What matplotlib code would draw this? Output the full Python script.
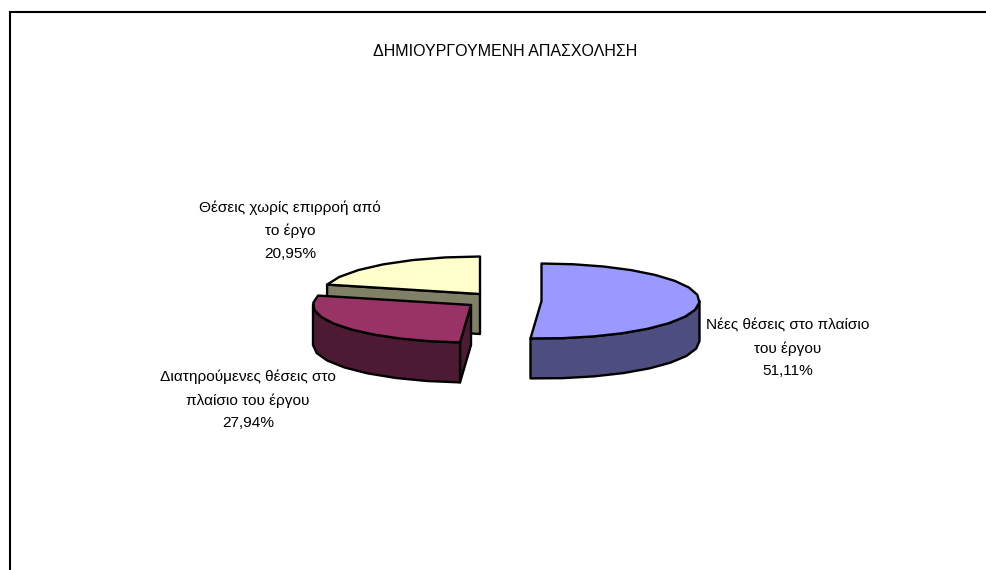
import numpy as np
import matplotlib
matplotlib.use('Agg')
import matplotlib.pyplot as plt
from matplotlib.patches import Polygon

plt.rcParams['font.family'] = ['Liberation Sans', 'DejaVu Sans']

title = 'ΔΗΜΙΟΥΡΓΟΥΜΕΝΗ ΑΠΑΣΧΟΛΗΣΗ'
labels = ['Νέες θέσεις στο πλαίσιο\nτου έργου',
          'Διατηρούμενες θέσεις στο\nπλαίσιο του έργου',
          'Θέσεις χωρίς επιρροή από\nτο έργο']
values = [51.11, 27.94, 20.95]

top_colours = ['#9999FF', '#993366', '#FFFFCC']
side_colours = ['#4D4D80', '#4D1A33', '#808066']
apex_x = [541.5, 471, 480]
apex_y = [301, 305, 294]
label_x = [788, 248, 290]
label_y = [348.5, 400, 230.5]

rx, ry = 158, 37.5
depth = 40
lw = 1.7


def point(cx, cy, a):
    return cx + rx * np.sin(a), cy - ry * np.cos(a)


def rim(cx, cy, a0, a1):
    # coarse steps on purpose, the original outline is jagged
    n = max(int(np.degrees(a1 - a0) / 11), 1)
    a = np.linspace(a0, a1, n + 1)
    return np.column_stack(point(cx, cy, a))


def draw_slice(ax, i, a0, a1):
    cx, cy = apex_x[i], apex_y[i]
    top = top_colours[i]
    side = side_colours[i]
    down = np.array([0, depth])
    apex = np.array([cx, cy])

    # flat cut faces that look towards the viewer
    for a, seen in ((a0, np.sin(a0) < -1e-9), (a1, np.sin(a1) > 1e-9)):
        if seen:
            edge = np.array(point(cx, cy, a))
            face = [apex, edge, edge + down, apex + down]
            ax.add_patch(Polygon(face, closed=True, fc=side, ec='black', lw=lw, joinstyle='round'))

    # curved outer wall, only the front half of the ellipse shows
    s0, s1 = max(a0, np.pi / 2), min(a1, 3 * np.pi / 2)
    if s1 > s0:
        r = rim(cx, cy, s0, s1)
        wall = np.vstack([r, (r + down)[::-1]])
        ax.add_patch(Polygon(wall, closed=True, fc=side, ec='black', lw=lw, joinstyle='round'))

    surface = np.vstack([[cx, cy], rim(cx, cy, a0, a1)])
    ax.add_patch(Polygon(surface, closed=True, fc=top, ec='black', lw=lw, joinstyle='round'))


fig = plt.figure(figsize=(9.87, 5.70), dpi=100)
ax = fig.add_axes([0, 0, 1, 1])
ax.set_xlim(0, 987)
ax.set_ylim(570, 0)
ax.axis('off')

# chart frame runs off the image at right and bottom
ax.plot([10, 10, 987], [570, 12, 12], color='black', lw=1.5, solid_joinstyle='miter')

ax.text(505, 51, title, ha='center', va='center', fontsize=11.5)

edges = np.radians(np.cumsum([0] + values) * 3.6)
for i in [2, 1, 0]:
    draw_slice(ax, i, edges[i], edges[i + 1])
    pct = '{:.2f}'.format(values[i]).replace('.', ',') + '%'
    ax.text(label_x[i], label_y[i], labels[i] + '\n' + pct, ha='center', va='center',
            fontsize=11.1, linespacing=1.76, color='black')

fig.savefig('out.png', dpi=100, facecolor='white')
